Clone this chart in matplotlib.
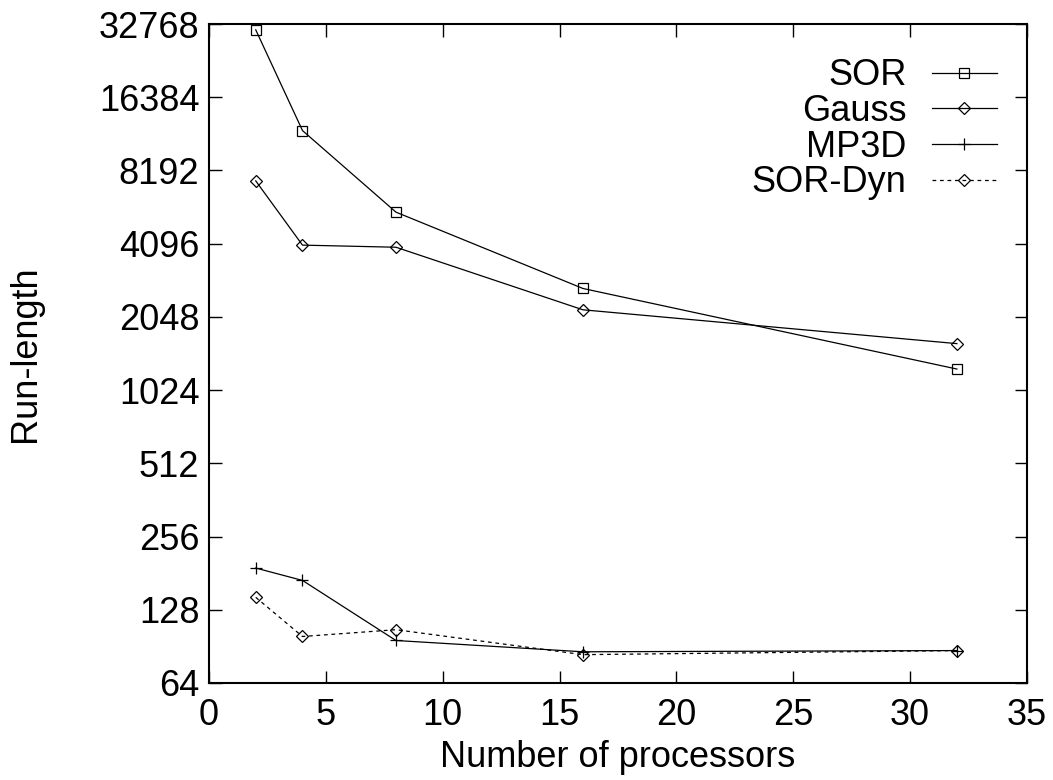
import matplotlib
matplotlib.use('Agg')
import matplotlib.pyplot as plt
from matplotlib.ticker import FixedLocator, FixedFormatter

plt.rcParams['font.family'] = ['Liberation Sans', 'DejaVu Sans']

procs = [2, 4, 8, 16, 32]
sor = [31000, 11950, 5520, 2680, 1250]
gauss = [7420, 4040, 3960, 2190, 1590]
mp3d = [190, 169, 95.7, 86, 87]
sor_dyn = [144, 99.4, 106, 83.7, 87]

yticks = [64, 128, 256, 512, 1024, 2048, 4096, 8192, 16384, 32768]
xticks = [0, 5, 10, 15, 20, 25, 30, 35]

fig = plt.figure(figsize=(10.53, 7.8), dpi=100)
ax = fig.add_axes([209/1053, 1 - 683/780, 818/1053, 659/780])

ax.plot(procs, sor, 'k-', lw=0.9, marker='s', ms=7.5, mfc='none', mew=0.9, label='SOR')
ax.plot(procs, gauss, 'k-', lw=0.9, marker='D', ms=6, mfc='none', mew=0.9, label='Gauss')
ax.plot(procs, mp3d, 'k-', lw=0.9, marker='+', ms=8, mew=0.9, label='MP3D')
ax.plot(procs, sor_dyn, 'k', ls=(0, (3, 3)), lw=0.9, marker='D', ms=6, mfc='none', mew=0.9,
        label='SOR-Dyn')

ax.set_yscale('log', base=2)
ax.set_ylim(64, 32768)
ax.set_xlim(0, 35)
ax.yaxis.set_major_locator(FixedLocator(yticks))
ax.yaxis.set_major_formatter(FixedFormatter([str(t) for t in yticks]))
ax.yaxis.set_minor_locator(FixedLocator([]))
ax.set_xticks(xticks)

fs = 26
ax.tick_params(which='both', direction='in', top=True, right=True, length=9, width=1,
               labelsize=fs)
ax.tick_params(axis='x', pad=11)
ax.tick_params(axis='y', pad=7)
for s in ax.spines.values():
    s.set_linewidth(1.5)

ax.set_xlabel('Number of processors', fontsize=fs, labelpad=5)
ax.set_ylabel('Run-length', fontsize=fs, labelpad=40)

ax.legend(loc='upper right', bbox_to_anchor=(0.963, 0.948), frameon=False, markerfirst=False,
          fontsize=fs, handlelength=1.8, handletextpad=0.7, labelspacing=0.02,
          borderpad=0, borderaxespad=0)

fig.savefig('out.png', dpi=100)
